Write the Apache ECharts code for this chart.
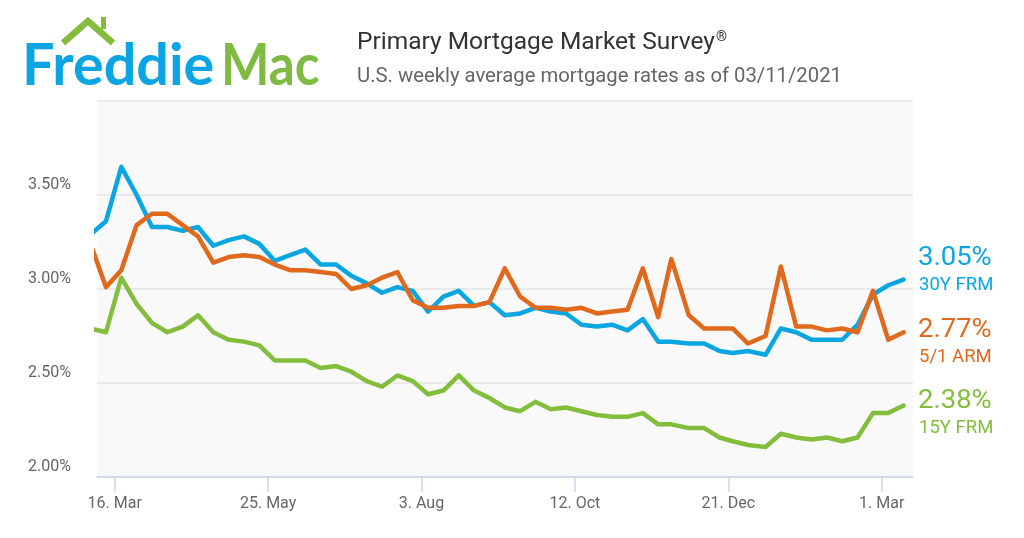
<!DOCTYPE html>
<html>
<head>
<meta charset="utf-8">
<script src="https://cdn.jsdelivr.net/npm/echarts@6/dist/echarts.min.js"></script>
<style>
  html, body { margin: 0; padding: 0; background: #fff; }
  #chart { width: 1024px; height: 538px; }
</style>
</head>
<body>
<div id="chart"></div>
<script>
// weekly survey dates (Thursday releases, a couple of holiday Wednesdays)
var dates = [
    '2020-03-05', '2020-03-12', '2020-03-19', '2020-03-26',
    '2020-04-02', '2020-04-09', '2020-04-16', '2020-04-23', '2020-04-30',
    '2020-05-07', '2020-05-14', '2020-05-21', '2020-05-28',
    '2020-06-04', '2020-06-11', '2020-06-18', '2020-06-25',
    '2020-07-02', '2020-07-09', '2020-07-16', '2020-07-23', '2020-07-30',
    '2020-08-06', '2020-08-13', '2020-08-20', '2020-08-27',
    '2020-09-03', '2020-09-10', '2020-09-17', '2020-09-24',
    '2020-10-01', '2020-10-08', '2020-10-15', '2020-10-22', '2020-10-29',
    '2020-11-05', '2020-11-12', '2020-11-19', '2020-11-25',
    '2020-12-03', '2020-12-10', '2020-12-17', '2020-12-23', '2020-12-30',
    '2021-01-07', '2021-01-14', '2021-01-21', '2021-01-28',
    '2021-02-04', '2021-02-11', '2021-02-18', '2021-02-25',
    '2021-03-04', '2021-03-11'
];

var frm30 = [
    3.29, 3.36, 3.65, 3.50,
    3.33, 3.33, 3.31, 3.33, 3.23,
    3.26, 3.28, 3.24, 3.15,
    3.18, 3.21, 3.13, 3.13,
    3.07, 3.03, 2.98, 3.01, 2.99,
    2.88, 2.96, 2.99, 2.91,
    2.93, 2.86, 2.87, 2.90,
    2.88, 2.87, 2.81, 2.80, 2.81,
    2.78, 2.84, 2.72, 2.72,
    2.71, 2.71, 2.67, 2.66, 2.67,
    2.65, 2.79, 2.77, 2.73,
    2.73, 2.73, 2.81, 2.97,
    3.02, 3.05
];

var arm51 = [
    3.24, 3.01, 3.10, 3.34,
    3.40, 3.40, 3.34, 3.28, 3.14,
    3.17, 3.18, 3.17, 3.13,
    3.10, 3.10, 3.09, 3.08,
    3.00, 3.02, 3.06, 3.09, 2.94,
    2.90, 2.90, 2.91, 2.91,
    2.93, 3.11, 2.96, 2.90,
    2.90, 2.89, 2.90, 2.87, 2.88,
    2.89, 3.11, 2.85, 3.16,
    2.86, 2.79, 2.79, 2.79, 2.71,
    2.75, 3.12, 2.80, 2.80,
    2.78, 2.79, 2.77, 2.99,
    2.73, 2.77
];

var frm15 = [
    2.79, 2.77, 3.06, 2.92,
    2.82, 2.77, 2.80, 2.86, 2.77,
    2.73, 2.72, 2.70, 2.62,
    2.62, 2.62, 2.58, 2.59,
    2.56, 2.51, 2.48, 2.54, 2.51,
    2.44, 2.46, 2.54, 2.46,
    2.42, 2.37, 2.35, 2.40,
    2.36, 2.37, 2.35, 2.33, 2.32,
    2.32, 2.34, 2.28, 2.28,
    2.26, 2.26, 2.21, 2.19, 2.17,
    2.16, 2.23, 2.21, 2.20,
    2.21, 2.19, 2.21, 2.34,
    2.34, 2.38
];

// x tick positions (every 10 weeks, Mondays)
var tickDates = ['2020-03-16', '2020-05-25', '2020-08-03', '2020-10-12', '2020-12-21', '2021-03-01'];
var monthNames = ['Jan', 'Feb', 'Mar', 'Apr', 'May', 'Jun', 'Jul', 'Aug', 'Sep', 'Oct', 'Nov', 'Dec'];

var toTs = function(s) {
    var p = s.split('-');
    return Date.UTC(+p[0], +p[1] - 1, +p[2]);
};

var pairs = function(vals) {
    return vals.map(function(v, i) { return [toTs(dates[i]), v]; });
};

var blue = '#0aa6e2';
var orange = '#e0691d';
var green = '#83bd3c';
var font = 'Roboto, "Open Sans", sans-serif';

var chart = echarts.init(document.getElementById('chart'));

var lineSeries = function(name, vals, color) {
    return {
        name: name,
        type: 'line',
        data: pairs(vals),
        symbol: 'none',
        smooth: false,
        clip: true,
        lineStyle: { color: color, width: 4.5, join: 'round', cap: 'round' },
        itemStyle: { color: color },
        emphasis: { disabled: true }
    };
};

var sideLabel = function(y, val, name, color) {
    return [{
        type: 'text', x: 918, y: y - 15, scaleX: 1.1,
        style: { text: val.toFixed(2) + '%', font: '400 25px ' + font, fill: color }
    }, {
        type: 'text', x: 919, y: y + 15, scaleX: 1.03,
        style: { text: name, font: '400 18px ' + font, fill: color }
    }];
};

option = {
    backgroundColor: '#ffffff',
    animation: false,
    grid: {
        left: 97, right: 111, top: 101, bottom: 61,
        show: true, backgroundColor: '#f9f9f9', borderWidth: 0
    },
    xAxis: {
        type: 'value',
        min: Date.UTC(2020, 2, 7, 22),
        max: Date.UTC(2021, 2, 15, 7),
        axisLine: { show: true, lineStyle: { color: '#ccd6eb', width: 1.5 } },
        axisTick: {
            show: true, length: 15, customValues: tickDates.map(toTs),
            lineStyle: { color: '#ccd6eb', width: 1.5 }
        },
        axisLabel: {
            customValues: tickDates.map(toTs),
            color: '#666666', fontFamily: font, fontSize: 16, margin: 19,
            formatter: function(v) {
                var d = new Date(v);
                return d.getUTCDate() + '. ' + monthNames[d.getUTCMonth()];
            }
        },
        splitLine: { show: false }
    },
    yAxis: {
        type: 'value',
        min: 2, max: 4, interval: 0.5,
        axisLine: { show: false },
        axisTick: { show: false },
        axisLabel: {
            showMaxLabel: false,
            color: '#666666', fontFamily: font, fontSize: 16, margin: 26,
            verticalAlign: 'bottom', lineHeight: 18, padding: [0, 0, 1, 0],
            formatter: function(v) { return v.toFixed(2) + '%'; }
        },
        splitLine: { lineStyle: { color: '#e3e3e3', width: 1.5 } }
    },
    series: [
        lineSeries('30Y FRM', frm30, blue),
        lineSeries('15Y FRM', frm15, green),
        lineSeries('5/1 ARM', arm51, orange)
    ],
    graphic: [
        // logo
        {
            type: 'polyline',
            shape: { points: [[63, 43], [88, 21], [113, 43]] },
            style: { stroke: green, lineWidth: 6.5, fill: null, lineJoin: 'miter' }
        },
        {
            type: 'rect',
            shape: { x: 101, y: 17, width: 5, height: 12 },
            style: { fill: green }
        },
        {
            type: 'text', x: 22, y: 38, scaleX: 1.01,
            style: { text: 'Freddie', font: 'bold 57px Lato, "Open Sans", sans-serif', fill: '#0ba5e3' }
        },
        {
            type: 'text', x: 221, y: 38, scaleX: 0.9,
            style: { text: 'Mac', font: 'bold 57px Lato, "Open Sans", sans-serif', fill: '#7fba42' }
        },
        // titles
        {
            type: 'text', left: 357, top: 30,
            style: {
                text: 'Primary Mortgage Market Survey{s|®}',
                font: '400 24.5px ' + font, fill: '#333333',
                rich: { s: { fontSize: 14, fontFamily: font, fill: '#333333', verticalAlign: 'top', padding: [0, 0, 12, 1] } }
            }
        },
        {
            type: 'text', left: 357, top: 67,
            style: { text: 'U.S. weekly average mortgage rates as of 03/11/2021', font: '400 20.3px ' + font, fill: '#666666' }
        }
    ].concat(
        sideLabel(261, frm30[frm30.length - 1], '30Y FRM', blue),
        sideLabel(333, arm51[arm51.length - 1], '5/1 ARM', orange),
        sideLabel(404, frm15[frm15.length - 1], '15Y FRM', green)
    )
};

chart.setOption(option);
</script>
</body>
</html>
